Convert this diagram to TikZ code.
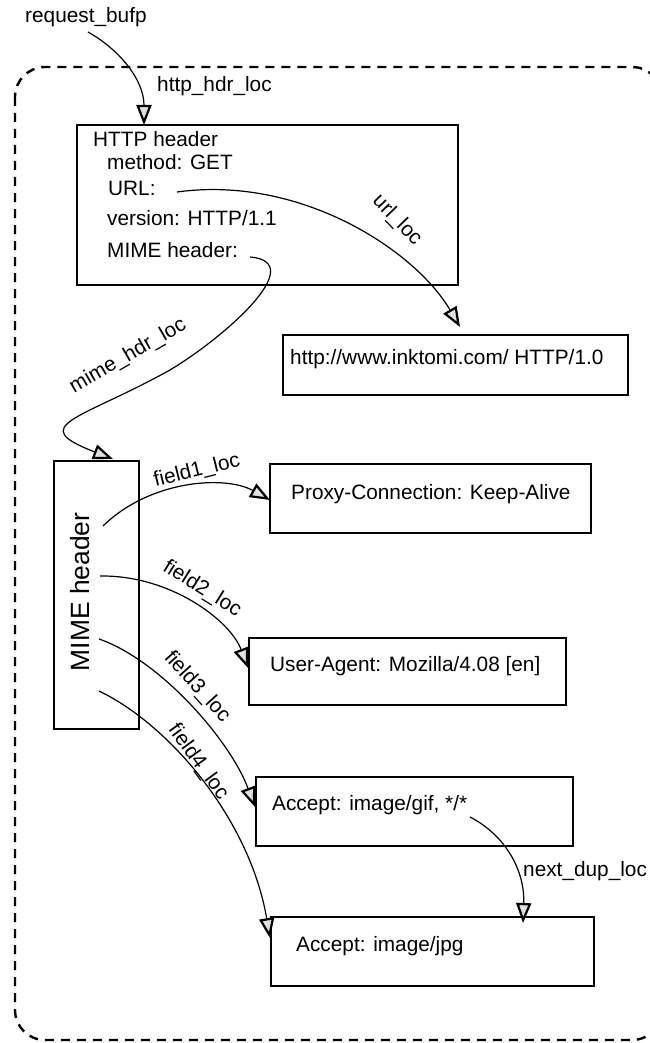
\documentclass[tikz,border=0pt]{standalone}
\usepackage{fontspec}
\setmainfont{Liberation Sans}
\usetikzlibrary{arrows.meta}
\begin{document}
\begin{tikzpicture}[x=1pt,y=1pt,
  box/.style={draw, line width=2.4pt, inner sep=0pt},
  txt/.style={anchor=west, inner sep=0pt, text height=0.72em, text depth=0pt, font=\fontsize{20.8}{24}\selectfont},
  lbl/.style={inner sep=0pt, font=\fontsize{20.8}{24}\selectfont},
  conn/.style={line width=1.2pt, -{Triangle[length=20pt,width=15pt,fill=black!12,line width=2.2pt]}},
  border/.style={line width=2.4pt, dash pattern=on 9pt off 7pt, rounded corners=30pt}
]
\useasboundingbox (0,0) rectangle (649,-1043);
\draw[border] (15,-67) rectangle (662,-1040);

% boxes
\node[box, minimum width=381pt, minimum height=160pt] (http) at (267.5,-205) {};
\node[box, minimum width=345pt, minimum height=60pt] (ink) at (455.5,-365) {};
\node[box, minimum width=85pt, minimum height=268pt] (mime) at (96.5,-595) {};
\node[box, minimum width=321pt, minimum height=69pt] (proxy) at (430.5,-498.5) {};
\node[box, minimum width=317pt, minimum height=67pt] (ua) at (407.5,-671.5) {};
\node[box, minimum width=317pt, minimum height=69pt] (gif) at (414.5,-811.5) {};
\node[box, minimum width=323pt, minimum height=69pt] (jpg) at (432.5,-951.5) {};

% texts
\node[txt] (hhdr) at (93,-143) {HTTP header};
\node[txt] (meth) at (107,-166) {method: GET};
\node[txt] (url) at (108,-192) {URL:};
\node[txt] (ver) at (107,-222) {version: HTTP/1.1};
\node[txt] (mimef) at (107,-254) {MIME header:};
\node[txt] (inkt) at (290,-361) {http://www.inktomi.com/ HTTP/1.0};
\node[txt] (proxyt) at (291,-496) {Proxy-Connection: Keep-Alive};
\node[txt] (uat) at (270,-668) {User-Agent: Mozilla/4.08 [en]};
\node[txt] (gift) at (272,-807) {Accept: image/gif, */*};
\node[txt] (jpgt) at (296,-948) {Accept: image/jpg};
\node[lbl, rotate=90, font=\fontsize{26.4}{30}\selectfont] (mimet) at (80,-592) {MIME header};

% labels
\node[txt] (req) at (25,-19) {request\_bufp};
\node[txt] (hhl) at (157,-88) {http\_hdr\_loc};
\node[lbl, rotate=-46] (urll) at (397,-220) {url\_loc};
\node[lbl, rotate=30] (mhl) at (128,-356) {mime\_hdr\_loc};
\node[lbl, rotate=14] (f1l) at (197,-471) {field1\_loc};
\node[lbl, rotate=-32] (f2l) at (202,-589) {field2\_loc};
\node[lbl, rotate=-48] (f3l) at (197,-687) {field3\_loc};
\node[lbl, rotate=-54] (f4l) at (198,-762) {field4\_loc};
\node[txt] (ndl) at (523,-873) {next\_dup\_loc};

% connector ends
\coordinate (reqs) at (88,-32);
\coordinate (httpin) at (144,-125);
\coordinate (urls) at (177,-192);
\coordinate (inkin) at (460,-327);
\coordinate (mimes) at (250,-257);
\coordinate (mimemid) at (170,-370);
\coordinate (mimein) at (113,-459);
\coordinate (f1s) at (103,-526);
\coordinate (f1e) at (270,-500);
\coordinate (f2s) at (100,-576);
\coordinate (f2e) at (248,-668);
\coordinate (f3s) at (99,-639);
\coordinate (f3e) at (255,-807);
\coordinate (f4s) at (99,-691);
\coordinate (f4e) at (270,-938);
\coordinate (nds) at (470,-817);
\coordinate (nde) at (523,-923);

% connectors
\draw[conn] (reqs) .. controls (120,-50) and (144,-80) .. (httpin);
\draw[conn] (urls) .. controls (300,-175) and (415,-250) .. (inkin);
\draw[conn] (mimes) .. controls (310,-262) and (225,-337) .. (mimemid)
             .. controls (80,-420) and (25,-425) .. (mimein);
\draw[conn] (f1s) .. controls (150,-480) and (225,-475) .. (f1e);
\draw[conn] (f2s) .. controls (170,-575) and (230,-620) .. (f2e);
\draw[conn] (f3s) .. controls (160,-660) and (230,-740) .. (f3e);
\draw[conn] (f4s) .. controls (170,-725) and (250,-820) .. (f4e);
\draw[conn] (nds) .. controls (505,-835) and (525,-870) .. (nde);
\end{tikzpicture}
\end{document}
